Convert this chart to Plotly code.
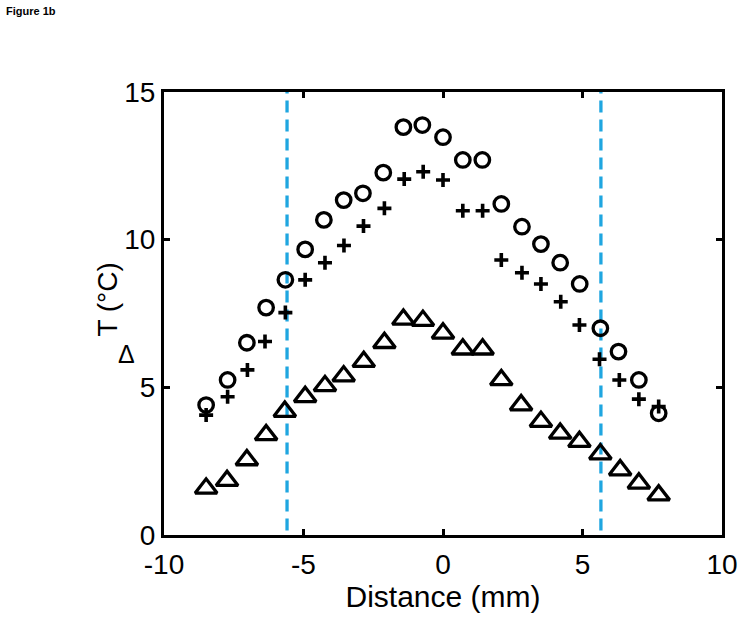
import plotly.graph_objects as go

# Distance positions (mm) for each series
x_circle = [-8.49, -7.72, -7.03, -6.34, -5.65, -4.94, -4.27, -3.56, -2.87, -2.14, -1.42, -0.74,
            0.0, 0.71, 1.41, 2.09, 2.83, 3.51, 4.20, 4.90, 5.64, 6.29, 7.02, 7.73]
y_circle = [4.40, 5.25, 6.51, 7.70, 8.64, 9.67, 10.67, 11.34, 11.57, 12.27, 13.81, 13.88,
            13.47, 12.70, 12.70, 11.21, 10.44, 9.85, 9.22, 8.50, 7.00, 6.21, 5.25, 4.12]

x_plus = [-8.49, -7.72, -7.01, -6.38, -5.65, -4.94, -4.23, -3.55, -2.85, -2.10, -1.39, -0.71,
          0.0, 0.71, 1.42, 2.09, 2.83, 3.51, 4.22, 4.89, 5.61, 6.32, 7.02, 7.73]
y_plus = [4.06, 4.68, 5.59, 6.55, 7.53, 8.64, 9.22, 9.80, 10.46, 11.06, 12.05, 12.30,
          12.02, 10.98, 10.98, 9.31, 8.88, 8.50, 7.90, 7.11, 5.95, 5.25, 4.60, 4.35]

x_tri = [-8.49, -7.74, -7.03, -6.34, -5.67, -4.94, -4.23, -3.56, -2.84, -2.10, -1.42, -0.72,
         0.0, 0.71, 1.42, 2.09, 2.80, 3.51, 4.20, 4.89, 5.64, 6.35, 7.02, 7.73]
y_tri = [1.58, 1.84, 2.54, 3.39, 4.18, 4.68, 5.05, 5.38, 5.87, 6.51, 7.30, 7.26,
         6.83, 6.29, 6.29, 5.25, 4.40, 3.84, 3.44, 3.16, 2.74, 2.20, 1.75, 1.35]

boundary_x = [-5.59, 5.66]
x_ticks = [-10, -5, 0, 5, 10]
y_ticks = [0, 5, 10, 15]

FONT = "Arial, Liberation Sans, sans-serif"

fig = go.Figure()
fig.add_trace(go.Scatter(x=x_circle, y=y_circle, mode="markers",
                         marker=dict(symbol="circle-open", size=14.5, color="black",
                                     line=dict(width=3.3, color="black"))))
fig.add_trace(go.Scatter(x=x_plus, y=y_plus, mode="markers",
                         marker=dict(symbol="cross-thin-open", size=10, color="black",
                                     line=dict(width=3.6, color="black"))))
fig.add_trace(go.Scatter(x=x_tri, y=y_tri, mode="markers",
                         marker=dict(symbol="triangle-up-open", size=19, color="black",
                                     line=dict(width=3.3, color="black"))))

for bx in boundary_x:
    fig.add_shape(type="line", xref="x", yref="paper", x0=bx, x1=bx, y0=0.01, y1=1,
                  line=dict(color="#1FA6E0", width=3.3, dash="12px,7px"), layer="below")

axis_common = dict(showgrid=False, zeroline=False, showline=True, linecolor="black",
                   linewidth=3, mirror="ticks", ticks="inside", ticklen=6, tickwidth=2.5,
                   tickcolor="black", tickfont=dict(family=FONT, size=28, color="black"))

fig.update_xaxes(range=[-10, 10], tickvals=x_ticks, ticktext=[str(v) for v in x_ticks],
                 ticklabelstandoff=2,
                 title=dict(text="Distance (mm)", font=dict(family=FONT, size=30, color="black"),
                            standoff=2), **axis_common)
fig.update_yaxes(range=[0, 15], tickvals=y_ticks, ticktext=[str(v) for v in y_ticks],
                 **axis_common)

fig.add_annotation(text="T (°C)", textangle=-90, xref="paper", yref="paper",
                   x=(106 - 164) / 564, y=(535 - 300) / 443, xanchor="center", yanchor="middle",
                   showarrow=False, font=dict(family=FONT, size=28, color="black"))
fig.add_annotation(text="Δ", xref="paper", yref="paper",
                   x=(126 - 164) / 564, y=(535 - 354) / 443, xanchor="center", yanchor="middle",
                   showarrow=False, font=dict(family=FONT, size=25, color="black"))
fig.add_annotation(text="<b>Figure 1b</b>", xref="paper", yref="paper",
                   x=(2 - 164) / 564, y=(535 - 3) / 443, xanchor="left", yanchor="top",
                   showarrow=False, font=dict(family=FONT, size=11, color="black"))

fig.update_layout(width=750, height=618, showlegend=False,
                  margin=dict(l=164, r=22, t=92, b=83),
                  paper_bgcolor="white", plot_bgcolor="white")

fig.write_html("out.html", config={"displayModeBar": False},
               post_script="document.body.style.margin='0';")
